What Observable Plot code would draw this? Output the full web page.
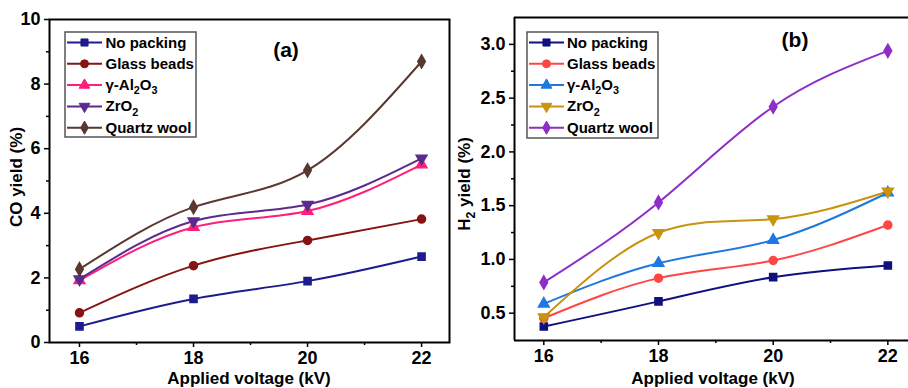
<!DOCTYPE html>
<html>
<head>
<meta charset="utf-8">
<script src="https://cdn.jsdelivr.net/npm/d3@7"></script>
<script src="https://cdn.jsdelivr.net/npm/@observablehq/plot@0.6"></script>
<style>
  html, body { margin: 0; padding: 0; background: #fff; }
  #wrap { display: flex; width: 908px; height: 388px; overflow: hidden; }
  #wrap svg { display: block; flex: none; }
</style>
</head>
<body>
<div id="wrap"></div>
<script>
// ---------- data ----------
const volts = [16, 18, 20, 22];
const seriesNames = ["No packing", "Glass beads", "γ-Al_2O_3", "ZrO_2", "Quartz wool"];
const symbolsList = ["square", "circle", "triangle", "triangle", "diamond"];

// Panel (a): CO yield (%)
const coNoPacking = [0.50, 1.35, 1.90, 2.66];
const coGlass     = [0.92, 2.38, 3.16, 3.82];
const coAl2O3     = [1.92, 3.57, 4.07, 5.51];
const coZrO2      = [1.96, 3.76, 4.27, 5.70];
const coQuartz    = [2.27, 4.19, 5.33, 8.70];
const coColors = ["#1c1c8c", "#861414", "#ff1f7a", "#5c2a8e", "#5a3830"];
const coYTicks = [0, 2, 4, 6, 8, 10];
const coYMinor = [1, 3, 5, 7, 9];

// Panel (b): H2 yield (%)
const h2NoPacking = [0.376, 0.61, 0.835, 0.944];
const h2Glass     = [0.453, 0.826, 0.99, 1.32];
const h2Al2O3     = [0.587, 0.965, 1.18, 1.62];
const h2ZrO2      = [0.463, 1.248, 1.375, 1.632];
const h2Quartz    = [0.786, 1.53, 2.42, 2.94];
const h2Colors = ["#10107e", "#ff4646", "#1f78e0", "#c9920f", "#8e2ec8"];
const h2YTicks = [0.5, 1.0, 1.5, 2.0, 2.5, 3.0];
const h2YMinor = [0.75, 1.25, 1.75, 2.25, 2.75];

const xTicks = [16, 18, 20, 22];
const xMinor = [17, 19, 21];

// ---------- helpers ----------
function addRich(sel, label, size) {
  // label uses "_d" for subscript digit
  const parts = label.split(/(_\d)/).filter(s => s.length);
  let sub = false;
  parts.forEach(p => {
    if (p.startsWith("_")) {
      sel.append("tspan").attr("font-size", size * 0.72).attr("dy", size * 0.28).text(p.slice(1));
      sub = true;
    } else {
      const t = sel.append("tspan").text(p);
      if (sub) { t.attr("dy", -size * 0.28); sub = false; }
    }
  });
}

function panel(opts) {
  const rows = [];
  opts.series.forEach((vals, i) => {
    vals.forEach((y, j) => rows.push({name: seriesNames[i], v: volts[j], y, i}));
  });
  const frameMarks = opts.fullFrame
    ? [Plot.frame({stroke: "#000", strokeWidth: 2})]
    : [Plot.ruleX([opts.xDomain[0]], {stroke: "#000", strokeWidth: 2}),
       Plot.ruleY([opts.yDomain[0], opts.yDomain[1]], {stroke: "#000", strokeWidth: 2})];
  const svg = Plot.plot({
    width: 454,
    height: 388,
    marginLeft: opts.marginLeft,
    marginRight: opts.marginRight,
    marginTop: opts.marginTop,
    marginBottom: opts.marginBottom,
    style: {fontFamily: "'Liberation Sans', Arial, sans-serif", fontWeight: "bold", color: "#000", background: "#fff"},
    x: {domain: opts.xDomain},
    y: {domain: opts.yDomain},
    color: {domain: seriesNames, range: opts.colors},
    symbol: {domain: seriesNames, range: symbolsList},
    marks: [
      Plot.axisX({ticks: xTicks, tickSize: 5, tickPadding: 4, fontSize: 18, fontWeight: "bold", strokeWidth: 1.5, tickFormat: d3.format("d"), label: null}),
      Plot.axisX({ticks: xMinor, tickSize: 3, strokeWidth: 1.5, tickFormat: () => "", label: null}),
      Plot.axisY({ticks: opts.yTicks, tickSize: 5, tickPadding: 4, fontSize: 18, fontWeight: "bold", strokeWidth: 1.5, tickFormat: opts.yFmt, label: null}),
      Plot.axisY({ticks: opts.yMinor, tickSize: 3, strokeWidth: 1.5, tickFormat: () => "", label: null}),
      Plot.line(rows, {x: "v", y: "y", z: "name", stroke: "name", strokeWidth: 2, curve: "natural"}),
      Plot.dot(rows, {x: "v", y: "y", fill: "name", stroke: "name", symbol: "name", r: 4,
                      rotate: d => d.name === "ZrO_2" ? 180 : 0}),
      ...frameMarks
    ]
  });
  const s = d3.select(svg);
  const F = "'Liberation Sans', Arial, sans-serif";
  // legend
  const L = opts.legend;
  const g = s.append("g").attr("font-family", F).attr("font-weight", "bold").attr("text-anchor", "start");
  g.append("rect").attr("x", L.x).attr("y", L.y).attr("width", L.w).attr("height", L.h)
    .attr("fill", "#fff").attr("stroke", "#555").attr("stroke-width", 1.5);
  seriesNames.forEach((name, i) => {
    const yy = L.row0 + i * L.step;
    const c = opts.colors[i];
    g.append("line").attr("x1", L.lx1).attr("x2", L.lx2).attr("y1", yy).attr("y2", yy)
      .attr("stroke", c).attr("stroke-width", 2);
    const typ = {square: d3.symbolSquare, circle: d3.symbolCircle, triangle: d3.symbolTriangle, diamond: d3.symbolDiamond}[symbolsList[i]];
    g.append("path").attr("d", d3.symbol(typ, 50)())
      .attr("transform", `translate(${(L.lx1 + L.lx2) / 2},${yy}) rotate(${name === "ZrO_2" ? 180 : 0})`)
      .attr("fill", c).attr("stroke", c);
    const t = g.append("text").attr("x", L.tx).attr("y", yy + 5).attr("font-size", 15)
      .attr("fill", "#000").attr("text-anchor", "start");
    addRich(t, name, 15);
  });
  // panel title
  s.append("text").attr("x", opts.title.x).attr("y", opts.title.y).attr("text-anchor", "middle")
    .attr("font-family", F).attr("font-weight", "bold").attr("font-size", 21).attr("fill", "#000").text(opts.title.text);
  // x label
  s.append("text").attr("x", opts.xLabelX).attr("y", 384).attr("text-anchor", "middle")
    .attr("font-family", F).attr("font-weight", "bold").attr("font-size", 17).attr("fill", "#000").text("Applied voltage (kV)");
  // y label
  const yl = s.append("text").attr("transform", `translate(${opts.yLabel.x},${opts.yLabel.y}) rotate(-90)`)
    .attr("text-anchor", "middle").attr("font-family", F).attr("font-weight", "bold").attr("font-size", 17).attr("fill", "#000");
  addRich(yl, opts.yLabel.text, 17);
  return svg;
}

const wrap = document.getElementById("wrap");
wrap.appendChild(panel({
  series: [coNoPacking, coGlass, coAl2O3, coZrO2, coQuartz],
  colors: coColors,
  xDomain: [15.474, 22.49],
  yDomain: [0, 10],
  yTicks: coYTicks, yMinor: coYMinor,
  yFmt: d3.format("d"),
  marginLeft: 49, marginRight: 5, marginTop: 19, marginBottom: 46,
  fullFrame: true,
  legend: {x: 65, y: 32, w: 131, h: 105, row0: 42.5, step: 21.3, lx1: 67, lx2: 102, tx: 105.5},
  title: {x: 286, y: 57, text: "(a)"},
  xLabelX: 249,
  yLabel: {x: 22, y: 177, text: "CO yield (%)"}
}));
wrap.appendChild(panel({
  series: [h2NoPacking, h2Glass, h2Al2O3, h2ZrO2, h2Quartz],
  colors: h2Colors,
  xDomain: [15.489, 22.36],
  yDomain: [0.246, 3.25],
  yTicks: h2YTicks, yMinor: h2YMinor,
  yFmt: d3.format(".1f"),
  marginLeft: 60, marginRight: 0, marginTop: 17, marginBottom: 48,
  fullFrame: false,
  legend: {x: 73, y: 32, w: 131, h: 106, row0: 42.5, step: 21.3, lx1: 75, lx2: 110, tx: 113},
  title: {x: 341, y: 47, text: "(b)"},
  xLabelX: 259,
  yLabel: {x: 16, y: 184, text: "H_2 yield (%)"}
}));
</script>
</body>
</html>
